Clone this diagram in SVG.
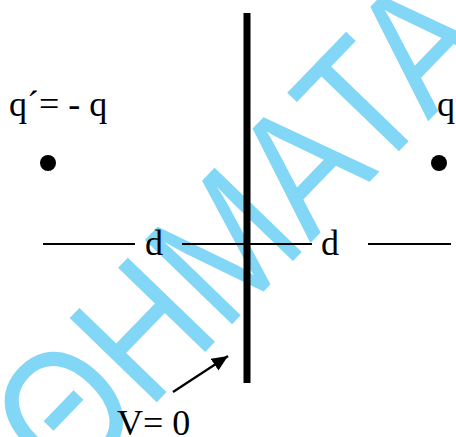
<svg xmlns="http://www.w3.org/2000/svg" width="456" height="437" viewBox="0 0 456 437">
<defs>
<style>
.lbl{font-family:"Liberation Serif","Times New Roman",serif;font-size:36px;fill:#000}
.wm{font-family:"Liberation Sans",Arial,sans-serif;font-size:176px;fill:#82d6f6}
.ln{stroke:#000;stroke-width:1.8;fill:none}
</style>
<marker id="ah" viewBox="0 0 16 14" refX="16" refY="7" markerWidth="16" markerHeight="14" markerUnits="userSpaceOnUse" orient="auto">
<path d="M0,0 L16,7 L0,14 z" fill="#000"/>
</marker>
</defs>
<rect width="456" height="437" fill="#fff"/>
<text class="wm" transform="translate(67.3,494.9) rotate(-46) scale(0.852,1)">ΘΗΜΑΤΑ</text>
<g id="plane">
<line x1="247" y1="13" x2="247" y2="383" stroke="#000" stroke-width="7"/>
</g>
<g id="image-charge">
<text class="lbl" x="9" y="116">q´= - q</text>
<circle cx="48" cy="163" r="8" fill="#000"/>
</g>
<g id="charge">
<text class="lbl" x="437" y="116">q</text>
<circle cx="439" cy="163" r="8" fill="#000"/>
</g>
<g id="connectors">
<line class="ln" x1="43" y1="244" x2="135" y2="244"/>
<line class="ln" x1="182" y1="244" x2="312" y2="244"/>
<line class="ln" x1="368" y1="244" x2="451" y2="244"/>
<line x1="173" y1="392" x2="228" y2="356" stroke="#000" stroke-width="2.2" marker-end="url(#ah)"/>
</g>
<g id="labels">
<text class="lbl" x="145" y="255">d</text>
<text class="lbl" x="321" y="255">d</text>
<text class="lbl" x="117" y="435">V= 0</text>
</g>
</svg>
